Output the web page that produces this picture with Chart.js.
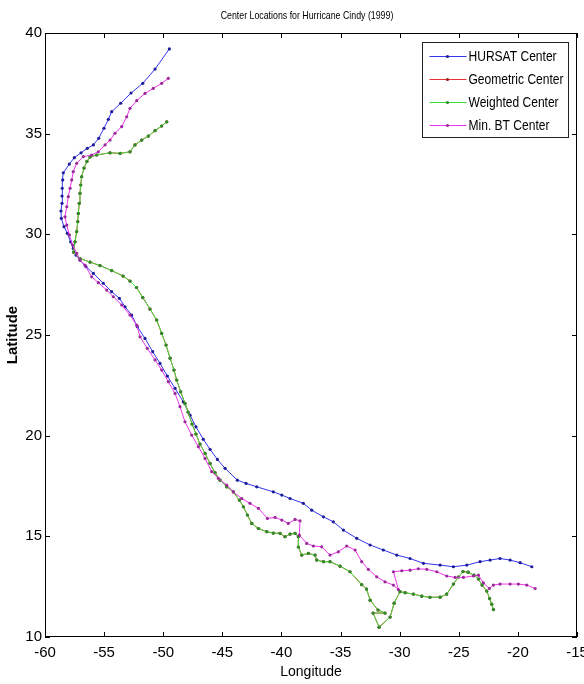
<!DOCTYPE html>
<html>
<head>
<meta charset="utf-8">
<title>Center Locations for Hurricane Cindy (1999)</title>
<script src="https://cdn.jsdelivr.net/npm/chart.js@4.4.1/dist/chart.umd.min.js"></script>
<style>
  body { margin: 0; background: #fff; }
</style>
</head>
<body>
<canvas id="cindy" width="584" height="684"></canvas>
<script>
// track positions, listed from the first fix (east) to the last (north)
var hursatLon = [-18.82,-19.81,-20.66,-21.51,-22.35,-23.20,-24.32,-25.46,-26.58,-27.99,-29.12,-30.25,-31.38,-32.50,-33.63,-34.76,-35.61,-36.45,-37.44,-38.15,-39.27,-39.97,-40.69,-42.09,-42.99,-43.73,-44.77,-45.42,-46.04,-46.61,-47.23,-47.73,-48.30,-49.00,-49.65,-50.27,-50.89,-51.54,-52.19,-52.67,-53.23,-53.71,-54.36,-55.07,-55.91,-56.53,-57.04,-57.38,-57.61,-57.83,-58.11,-58.39,-58.62,-58.65,-58.56,-58.56,-58.54,-58.50,-58.45,-57.94,-57.52,-56.95,-56.42,-55.91,-55.46,-55.01,-54.64,-54.36,-53.60,-52.72,-51.73,-50.69,-49.48];
var hursatLat = [13.49,13.69,13.82,13.90,13.82,13.74,13.57,13.49,13.57,13.66,13.90,14.07,14.32,14.57,14.90,15.31,15.72,15.97,16.30,16.64,16.88,17.05,17.21,17.46,17.63,17.79,18.38,18.82,19.32,19.82,20.44,21.02,21.68,22.35,22.96,23.59,24.17,24.83,25.41,25.99,26.40,26.82,27.15,27.57,28.06,28.39,28.72,28.97,29.30,29.63,30.05,30.38,30.79,31.16,31.54,31.90,32.29,32.70,33.06,33.49,33.81,34.05,34.27,34.44,34.77,35.27,35.71,36.09,36.51,37.02,37.50,38.21,39.21];

var geometricLon = [-22.07,-22.21,-22.39,-22.63,-23.03,-23.34,-23.71,-24.21,-24.64,-25.03,-25.46,-26.02,-26.58,-27.43,-28.13,-28.84,-29.54,-29.97,-30.47,-30.81,-31.74,-32.25,-31.24,-31.83,-32.50,-32.80,-33.21,-34.20,-35.04,-35.89,-36.45,-37.01,-37.16,-37.72,-38.28,-38.57,-38.57,-38.85,-39.27,-39.70,-40.12,-40.69,-41.24,-41.95,-42.51,-42.88,-43.22,-43.56,-44.07,-44.63,-45.19,-45.62,-46.04,-46.46,-46.89,-47.23,-47.56,-47.90,-48.16,-48.52,-48.86,-49.09,-49.42,-49.76,-50.13,-50.55,-51.12,-51.73,-52.26,-52.81,-53.40,-54.36,-55.35,-56.19,-57.04,-57.59,-57.46,-57.32,-57.23,-57.18,-57.10,-57.04,-56.98,-56.90,-56.70,-56.45,-56.19,-55.63,-54.50,-53.65,-52.81,-52.39,-51.82,-51.26,-50.69,-50.13,-49.70];
var geometricLat = [11.36,11.63,11.91,12.28,12.58,12.88,13.07,13.22,13.25,12.98,12.63,12.13,11.98,11.97,12.03,12.13,12.20,12.25,11.68,10.99,10.49,11.19,11.19,11.34,11.83,12.38,12.60,13.24,13.52,13.74,13.74,13.82,14.07,14.15,14.07,14.47,14.98,15.15,15.11,14.98,15.15,15.16,15.23,15.39,15.64,16.06,16.47,16.80,17.21,17.46,17.79,18.16,18.62,19.12,19.58,20.08,20.58,21.17,21.60,22.18,22.76,23.26,23.85,24.50,25.08,25.74,26.29,26.86,27.36,27.68,27.93,28.20,28.45,28.62,28.80,29.12,29.63,30.13,30.63,31.04,31.54,32.04,32.45,32.86,33.29,33.62,33.84,33.94,34.05,34.02,34.10,34.44,34.68,34.88,35.15,35.38,35.59];

var weightedLon = [-22.07,-22.21,-22.39,-22.63,-23.03,-23.34,-23.71,-24.21,-24.64,-25.03,-25.46,-26.02,-26.58,-27.43,-28.13,-28.84,-29.54,-29.97,-30.47,-30.81,-31.74,-32.25,-31.24,-31.83,-32.50,-32.80,-33.21,-34.20,-35.04,-35.89,-36.45,-37.01,-37.16,-37.72,-38.28,-38.57,-38.57,-38.85,-39.27,-39.70,-40.12,-40.69,-41.24,-41.95,-42.51,-42.88,-43.22,-43.56,-44.07,-44.63,-45.19,-45.62,-46.04,-46.46,-46.89,-47.23,-47.56,-47.90,-48.16,-48.52,-48.86,-49.09,-49.42,-49.76,-50.13,-50.55,-51.12,-51.73,-52.26,-52.81,-53.40,-54.36,-55.35,-56.19,-57.04,-57.59,-57.46,-57.32,-57.23,-57.18,-57.10,-57.04,-56.98,-56.90,-56.70,-56.45,-56.19,-55.63,-54.50,-53.65,-52.81,-52.39,-51.82,-51.26,-50.69,-50.13,-49.70];
var weightedLat = [11.36,11.63,11.91,12.28,12.58,12.88,13.07,13.22,13.25,12.98,12.63,12.13,11.98,11.97,12.03,12.13,12.20,12.25,11.68,10.99,10.49,11.19,11.19,11.34,11.83,12.38,12.60,13.24,13.52,13.74,13.74,13.82,14.07,14.15,14.07,14.47,14.98,15.15,15.11,14.98,15.15,15.16,15.23,15.39,15.64,16.06,16.47,16.80,17.21,17.46,17.79,18.16,18.62,19.12,19.58,20.08,20.58,21.17,21.60,22.18,22.76,23.26,23.85,24.50,25.08,25.74,26.29,26.86,27.36,27.68,27.93,28.20,28.45,28.62,28.80,29.12,29.63,30.13,30.63,31.04,31.54,32.04,32.45,32.86,33.29,33.62,33.84,33.94,34.05,34.02,34.10,34.44,34.68,34.88,35.15,35.38,35.59];

var minBtLon = [-18.54,-19.25,-19.96,-20.66,-21.51,-22.07,-22.41,-22.92,-23.34,-23.76,-24.61,-25.31,-26.02,-26.86,-27.71,-28.42,-29.12,-29.82,-30.53,-30.11,-30.53,-31.24,-31.94,-32.65,-33.21,-33.77,-34.48,-35.19,-35.89,-36.59,-37.30,-37.86,-38.49,-38.43,-38.85,-39.42,-39.97,-40.54,-41.19,-41.95,-42.66,-43.36,-44.07,-44.63,-45.34,-45.90,-46.46,-47.03,-47.59,-48.16,-48.58,-49.00,-49.57,-50.13,-50.69,-51.35,-51.96,-52.24,-52.81,-53.51,-54.22,-54.78,-55.49,-56.05,-56.62,-57.04,-57.32,-57.66,-57.94,-58.16,-58.31,-58.16,-58.03,-57.88,-57.74,-57.61,-57.32,-56.76,-56.05,-55.49,-54.92,-54.50,-54.08,-53.51,-53.09,-52.81,-52.24,-51.54,-50.84,-50.13,-49.57];
var minBtLat = [12.41,12.58,12.63,12.63,12.63,12.58,12.41,12.69,13.07,13.03,12.96,12.96,13.03,13.24,13.36,13.39,13.32,13.29,13.24,12.36,12.58,12.74,12.99,13.36,13.74,14.32,14.52,14.23,14.07,14.48,14.52,14.65,15.06,15.77,15.84,15.64,15.81,15.94,15.89,16.39,16.64,16.88,17.21,17.55,17.88,18.21,18.87,19.45,20.03,20.69,21.44,22.10,22.68,23.26,23.76,24.34,24.91,25.49,25.99,26.49,26.90,27.23,27.60,27.89,28.47,28.72,29.06,29.47,29.97,30.46,30.87,31.37,31.87,32.29,32.70,33.11,33.53,33.86,33.94,34.10,34.44,34.68,35.02,35.35,35.84,36.26,36.64,37.00,37.25,37.50,37.75];

var seriesNames = ["HURSAT Center", "Geometric Center", "Weighted Center", "Min. BT Center"];
var lonTicks = [-60, -55, -50, -45, -40, -35, -30, -25, -20, -15];
var latTicks = [10, 15, 20, 25, 30, 35, 40];
var chartTitle = 'Center Locations for Hurricane Cindy (1999)';

var FONT = "'Liberation Sans Narrow', 'Liberation Sans', Arial, sans-serif";

function track(lon, lat) {
  return lon.map(function (x, i) { return { x: x, y: lat[i] }; });
}

function series(name, lon, lat, line, dot, order) {
  return {
    label: name,
    data: track(lon, lat),
    showLine: true,
    borderColor: line,
    borderWidth: 1,
    backgroundColor: dot,
    pointBackgroundColor: dot,
    pointBorderWidth: 0,
    pointRadius: 1.6,
    pointHoverRadius: 1.6,
    order: order
  };
}

// narrow text, the figure's font is squeezed sideways
function squeezed(ctx, text, x, y, k) {
  ctx.save();
  ctx.translate(x, y);
  ctx.scale(k, 1);
  ctx.fillText(text, 0, 0);
  ctx.restore();
}

// box round the axes with inward ticks, like the matlab figure
var boxTicks = {
  id: 'boxTicks',
  afterDatasetsDraw: function (chart) {
    var ctx = chart.ctx, a = chart.chartArea;
    var sx = chart.scales.x, sy = chart.scales.y;
    ctx.save();
    ctx.strokeStyle = '#000';
    ctx.lineWidth = 1;
    ctx.strokeRect(Math.round(a.left) + 0.5, Math.round(a.top) + 0.5,
      Math.round(a.width) - 1, Math.round(a.height) - 1);
    ctx.beginPath();
    lonTicks.forEach(function (v) {
      var px = Math.round(sx.getPixelForValue(v)) + 0.5;
      ctx.moveTo(px, a.bottom); ctx.lineTo(px, a.bottom - 5);
      ctx.moveTo(px, a.top); ctx.lineTo(px, a.top + 5);
    });
    latTicks.forEach(function (v) {
      var py = Math.round(sy.getPixelForValue(v)) + 0.5;
      ctx.moveTo(a.left, py); ctx.lineTo(a.left + 5, py);
      ctx.moveTo(a.right, py); ctx.lineTo(a.right - 5, py);
    });
    ctx.stroke();
    ctx.restore();
  }
};

// title and legend box in the upper right corner of the plot
var cornerLegend = {
  id: 'cornerLegend',
  afterDraw: function (chart) {
    var ctx = chart.ctx, a = chart.chartArea;
    ctx.save();
    ctx.fillStyle = '#000';
    ctx.font = '11px ' + FONT;
    ctx.textAlign = 'left';
    ctx.textBaseline = 'middle';
    var tw = ctx.measureText(chartTitle).width * 0.8;
    squeezed(ctx, chartTitle, (a.left + a.right) / 2 - 4 - tw / 2, 15.5, 0.8);

    var w = 146, h = 95;
    var x0 = Math.round(a.right - 9 - w) + 0.5, y0 = Math.round(a.top + 9) + 0.5;
    ctx.fillStyle = '#fff';
    ctx.fillRect(x0, y0, w, h);
    ctx.strokeStyle = '#222';
    ctx.lineWidth = 1;
    ctx.strokeRect(x0, y0, w, h);
    ctx.font = '14px ' + FONT;
    chart.data.datasets.forEach(function (ds, i) {
      var yy = Math.round(y0 + 13.5 + i * 23) + 0.5;
      ctx.strokeStyle = ds.borderColor;
      ctx.beginPath();
      ctx.moveTo(x0 + 7, yy);
      ctx.lineTo(x0 + 44, yy);
      ctx.stroke();
      ctx.fillStyle = ds.pointBackgroundColor;
      ctx.beginPath();
      ctx.arc(x0 + 25, yy, 1.6, 0, Math.PI * 2);
      ctx.fill();
      ctx.fillStyle = '#000';
      squeezed(ctx, ds.label, x0 + 46, yy + 1, 0.86);
    });
    ctx.restore();
  }
};

var ctx = document.getElementById('cindy').getContext('2d');
var chart = new Chart(ctx, {
  type: 'scatter',
  data: {
    datasets: [
      series(seriesNames[0], hursatLon, hursatLat, '#3434f0', '#1c1c9a', 4),
      series(seriesNames[1], geometricLon, geometricLat, '#f03030', '#a01c1c', 3),
      series(seriesNames[2], weightedLon, weightedLat, '#3ade3a', '#2a8f2a', 2),
      series(seriesNames[3], minBtLon, minBtLat, '#ee34ee', '#9a2a9a', 1)
    ]
  },
  options: {
    responsive: false,
    animation: false,
    events: [],
    layout: { padding: { top: 33, right: 7 } },
    plugins: {
      legend: { display: false },
      tooltip: { enabled: false },
      title: { display: false }
    },
    scales: {
      x: {
        type: 'linear',
        min: -60,
        max: -15,
        afterBuildTicks: function (s) { s.ticks = lonTicks.map(function (v) { return { value: v }; }); },
        ticks: { color: '#000', font: { family: FONT, size: 15 }, padding: 7, maxRotation: 0 },
        grid: { display: false, drawTicks: false },
        border: { display: false },
        title: { display: true, text: 'Longitude', color: '#000', font: { family: FONT, size: 14 }, padding: { top: 0, bottom: 3 } },
        afterFit: function (s) { s.height = 47; s.paddingLeft = 0; s.paddingRight = 0; }
      },
      y: {
        type: 'linear',
        min: 10,
        max: 40,
        afterBuildTicks: function (s) { s.ticks = latTicks.map(function (v) { return { value: v }; }); },
        ticks: { color: '#000', font: { family: FONT, size: 15 }, padding: 3 },
        grid: { display: false, drawTicks: false },
        border: { display: false },
        title: { display: true, text: 'Latitude', color: '#000', font: { family: FONT, size: 15, weight: 'bold' }, padding: { top: 4, bottom: 0 } },
        afterFit: function (s) { s.width = 45; s.paddingTop = 0; s.paddingBottom = 0; }
      }
    }
  },
  plugins: [boxTicks, cornerLegend]
});
</script>
</body>
</html>
